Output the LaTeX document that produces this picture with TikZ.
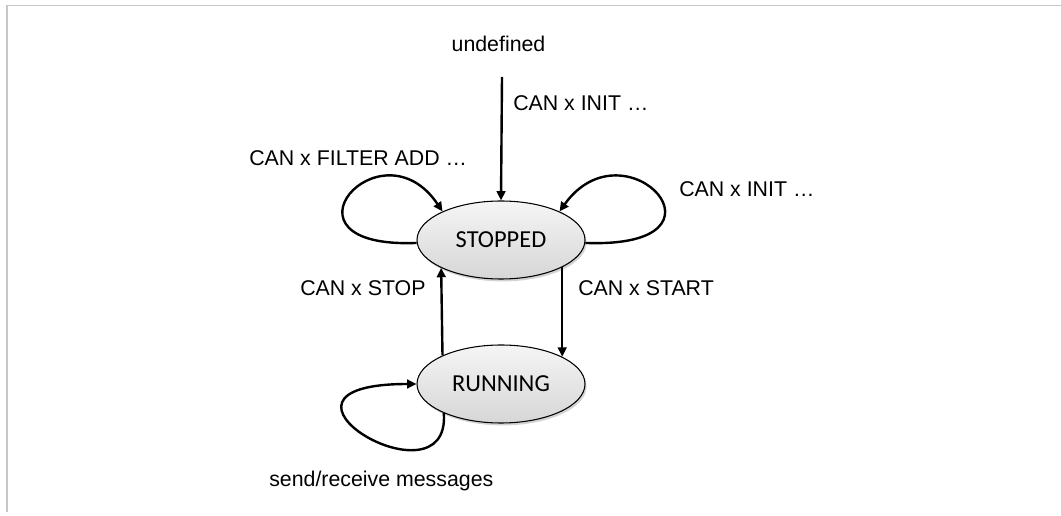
\documentclass[tikz,border=0pt]{standalone}
\usepackage{fontspec}
\setmainfont{Liberation Sans}
\newfontfamily\calfont{Carlito}
\usetikzlibrary{arrows.meta,shadows,shapes.geometric}
\tikzset{
  state/.style={ellipse, draw=black, line width=0.8pt, inner sep=0pt,
    minimum width=126pt, minimum height=58.5pt,
    top color=gray!8, bottom color=gray!32,
    drop shadow={opacity=0.35, shadow xshift=1.2pt, shadow yshift=-1.8pt, fill=gray},
    font=\calfont\fontsize{18.3}{22}\selectfont},
  lbl/.style={font=\fontsize{16}{19}\selectfont, inner sep=0pt},
  arr/.style={line width=1.8pt, -{Triangle[length=7pt,width=6.5pt]}},
  frame/.style={draw=black!22, line width=1.3pt}
}
\begin{document}
\begin{tikzpicture}[x=0.75pt,y=-0.75pt]
\useasboundingbox (0,0) rectangle (1061,516);
\draw[frame] (7,512) -- (7,5.5) -- (1061,5.5);
\node[state] (S) at (501,240) {STOPPED};
\node[state] (R) at (501,384) {RUNNING};
\node[lbl, anchor=base] (U) at (498.5,52) {undefined};
\coordinate (ut) at (502,77);
\draw[arr] (ut) -- (S.north);
\node[lbl, anchor=base west] (linit) at (513,111) {CAN x INIT …};
\node[lbl, anchor=base west] (lfilter) at (249,166) {CAN x FILTER ADD …};
\node[lbl, anchor=base west] (linit2) at (679,197) {CAN x INIT …};
\node[lbl, anchor=base west] (lstop) at (300,296) {CAN x STOP};
\node[lbl, anchor=base west] (lstart) at (578,296) {CAN x START};
\node[lbl, anchor=base west] (lsend) at (269,487) {send/receive messages};
% self loops
\draw[arr] (S.182) .. controls +(-150,6) and +(-62,-92) .. (S.154);
\draw[arr] (S.-2) .. controls +(160,6) and +(66,-92) .. (S.26);
\draw[arr] (R.207) .. controls +(7,98) and +(-180,0) .. (R.180);
% transitions
\draw[arr] (S.-24.5) -- (R.24.5);
\draw[arr] (R.154.8) -- (S.205.2);
\end{tikzpicture}
\end{document}
